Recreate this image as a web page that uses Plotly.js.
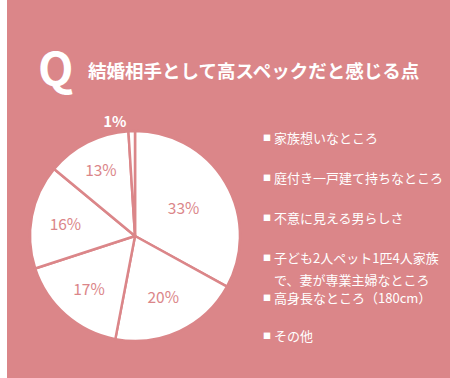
<!DOCTYPE html>
<html><head><meta charset="utf-8">
<script src="https://cdn.plot.ly/plotly-3.0.1.min.js"></script>
<style>html,body{margin:0;padding:0;background:#fff}#chart{width:450px;height:378px}</style>
</head><body><div id="chart"></div>
<script>
const categories = ['家族想いなところ','庭付き一戸建て持ちなところ','不意に見える男らしさ','子ども2人ペット1匹4人家族<br>で、妻が専業主婦なところ','高身長なところ（180cm）','その他'];
const values = [33, 20, 17, 16, 13, 1];
const labelYpx = [137, 177, 217, 257, 297, 335];
const pink = '#DB8689';
const font = '"Noto Sans CJK JP", "Noto Sans", sans-serif';

const legendAnn = [];
categories.forEach((c, i) => {
  const y = 1 - labelYpx[i] / 378;
  legendAnn.push({xref:'paper', yref:'paper', x:262/450, y:y, xanchor:'left', yanchor:'middle', borderpad:0,
    text:'■', showarrow:false, font:{family:font, size:8, color:'#fff'}});
  c.split('<br>').forEach((line, j) => {
    legendAnn.push({xref:'paper', yref:'paper', x:273/450, y:y - j * 22 / 378, xanchor:'left', yanchor:'middle', borderpad:0,
      text:line, showarrow:false, font:{family:font, size:13, color:'#fff'}});
  });
});

const data = [{
  type:'pie', values:values, labels:categories, sort:false, direction:'clockwise', rotation:0,
  texttemplate:'%{value}%', textposition:['inside','inside','inside','inside','inside','outside'],
  insidetextorientation:'horizontal',
  insidetextfont:{family:font, size:15.5, color:pink},
  outsidetextfont:{family:font, size:15, color:'#fff', weight:'bold'},
  marker:{colors:values.map(()=> '#ffffff'), line:{color:pink, width:2.5}},
  domain:{x:[30/450, 240/450], y:[(142-105)/378, (142+105)/378]},
  hoverinfo:'none', showlegend:false
}];

const layout = {
  width:450, height:378, margin:{l:0,r:0,t:0,b:0},
  paper_bgcolor:'#ffffff', showlegend:false,
  shapes:[{type:'rect', xref:'paper', yref:'paper', x0:7/450, x1:1, y0:0, y1:1, fillcolor:pink, line:{width:0}, layer:'below'}],
  annotations:[
    {xref:'paper', yref:'paper', x:36/450, y:1-66/378, xanchor:'left', yanchor:'middle', text:'<b>Q</b>', showarrow:false, font:{family:font, size:46, color:'#fff'}},
    {xref:'paper', yref:'paper', x:86/450, y:1-70/378, xanchor:'left', yanchor:'middle', text:'<b>結婚相手として高スペックだと感じる点</b>', showarrow:false, font:{family:font, size:18.5, color:'#fff'}}
  ].concat(legendAnn)
};
Plotly.newPlot('chart', data, layout, {displayModeBar:false, staticPlot:true});
</script></body></html>
